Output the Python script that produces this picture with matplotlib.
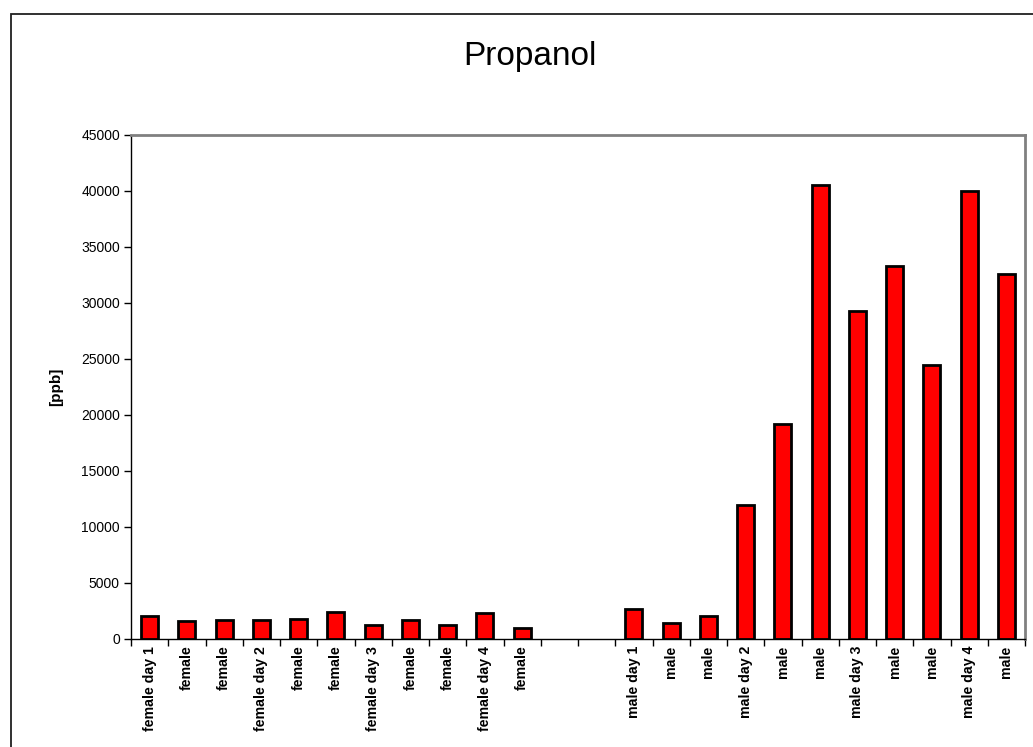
import matplotlib
matplotlib.use("Agg")
from matplotlib import pyplot as plt
from matplotlib.patches import Rectangle
import numpy as np

plt.rcParams['font.family'] = ['Liberation Sans', 'DejaVu Sans']

# Propanol concentration per sample
female_labels = ['female day 1', 'female', 'female', 'female day 2', 'female', 'female',
                 'female day 3', 'female', 'female', 'female day 4', 'female']
female_ppb = [2030, 1550, 1700, 1640, 1760, 2350, 1250, 1670, 1220, 2330, 960]

male_labels = ['male day 1', 'male', 'male', 'male day 2', 'male', 'male',
               'male day 3', 'male', 'male', 'male day 4', 'male']
male_ppb = [2660, 1400, 2000, 11900, 19140, 40520, 29310, 33340, 24480, 40020, 32620]

gap = 2  # empty category slots between the two groups

labels = female_labels + [''] * gap + male_labels
values = female_ppb + [np.nan] * gap + male_ppb
x = np.arange(len(labels))

fig = plt.figure(figsize=(10.33, 7.47), dpi=100)

# outer chart border
fig.patches.append(Rectangle((10.5 / 1033, -0.1), 1.2, 1.1 - 13.5 / 747,
                             transform=fig.transFigure, fill=False,
                             edgecolor='#202020', linewidth=1.3))

ax = fig.add_axes([131 / 1033, (747 - 638.7) / 747, (1025 - 131) / 1033, (638.7 - 135) / 747])

ax.bar(x, values, width=0.46, color='#ff0000', edgecolor='black', linewidth=2.0, zorder=3)

ax.set_xlim(-0.5, len(labels) - 0.5)
ax.set_ylim(0, 45000)
ax.set_yticks(np.arange(0, 45001, 5000))
ax.tick_params(axis='y', direction='out', length=5, width=1, labelsize=10, pad=3, colors='black')

ax.set_xticks(x)
ax.set_xticklabels(labels, rotation=90, fontsize=10.2, fontweight='bold')
ax.tick_params(axis='x', length=0, pad=5)
ax.set_xticks(np.arange(-0.5, len(labels), 1), minor=True)
ax.tick_params(axis='x', which='minor', direction='out', length=5, width=1)

for side in ['top', 'right']:
    ax.spines[side].set_color('#808080')
    ax.spines[side].set_linewidth(2)
for side in ['left', 'bottom']:
    ax.spines[side].set_color('black')
    ax.spines[side].set_linewidth(1)

ax.set_ylabel('[ppb]', fontsize=11, fontweight='bold', labelpad=13)
fig.text(530 / 1033, 1 - 56 / 747, 'Propanol', ha='center', va='center', fontsize=24)

fig.savefig('out.png', dpi=100)
